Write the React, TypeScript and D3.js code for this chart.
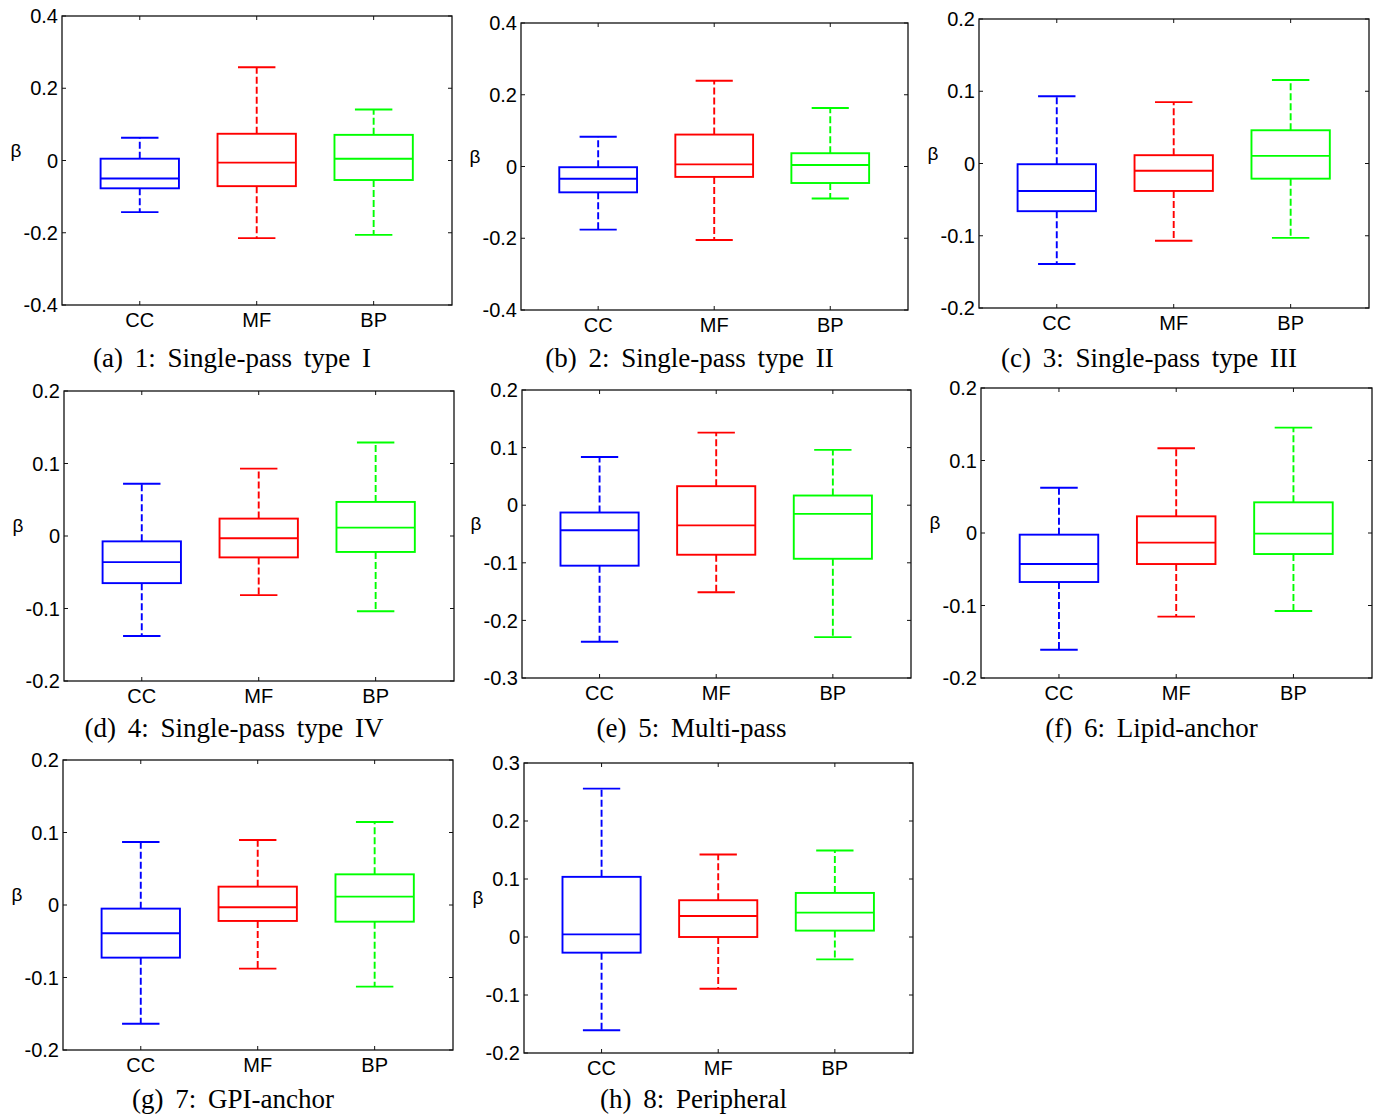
import React from "react";
import * as d3 from "d3";

// Categories
const categories = ["CC", "MF", "BP"];

// Each row: [lower whisker, Q1, median, Q3, upper whisker] for CC, MF, BP
const singlePassI = [
  [-0.143, -0.077, -0.050, 0.005, 0.063],
  [-0.215, -0.071, -0.006, 0.074, 0.258],
  [-0.206, -0.054, 0.005, 0.071, 0.141],
];
const singlePassII = [
  [-0.176, -0.072, -0.034, -0.002, 0.083],
  [-0.205, -0.029, 0.006, 0.089, 0.239],
  [-0.089, -0.046, 0.004, 0.037, 0.163],
];
const singlePassIII = [
  [-0.139, -0.066, -0.038, -0.001, 0.093],
  [-0.107, -0.038, -0.010, 0.0115, 0.085],
  [-0.103, -0.021, 0.0105, 0.046, 0.1155],
];
const singlePassIV = [
  [-0.138, -0.065, -0.036, -0.0074, 0.072],
  [-0.0816, -0.0295, -0.0032, 0.024, 0.093],
  [-0.1037, -0.022, 0.0115, 0.047, 0.129],
];
const multiPass = [
  [-0.237, -0.105, -0.0434, -0.0127, 0.0838],
  [-0.151, -0.086, -0.035, 0.033, 0.126],
  [-0.229, -0.093, -0.015, 0.0168, 0.096],
];
const lipidAnchor = [
  [-0.161, -0.0676, -0.0428, -0.0023, 0.0625],
  [-0.1154, -0.0428, -0.0133, 0.023, 0.1168],
  [-0.1076, -0.029, -0.0009, 0.0423, 0.1453],
];
const gpiAnchor = [
  [-0.1637, -0.0726, -0.039, -0.005, 0.0869],
  [-0.0878, -0.022, -0.0032, 0.0253, 0.0897],
  [-0.1126, -0.023, 0.0115, 0.0423, 0.1145],
];
const peripheral = [
  [-0.1607, -0.027, 0.0046, 0.1037, 0.2558],
  [-0.0893, 0.0, 0.0363, 0.0634, 0.1423],
  [-0.0386, 0.011, 0.042, 0.076, 0.1492],
];

const captions = [
  "(a) 1: Single-pass type I",
  "(b) 2: Single-pass type II",
  "(c) 3: Single-pass type III",
  "(d) 4: Single-pass type IV",
  "(e) 5: Multi-pass",
  "(f) 6: Lipid-anchor",
  "(g) 7: GPI-anchor",
  "(h) 8: Peripheral",
];

const yDomains = [
  [-0.4, 0.4],
  [-0.4, 0.4],
  [-0.2, 0.2],
  [-0.2, 0.2],
  [-0.3, 0.2],
  [-0.2, 0.2],
  [-0.2, 0.2],
  [-0.2, 0.3],
];
const yTickSteps = [0.2, 0.2, 0.1, 0.1, 0.1, 0.1, 0.1, 0.1];

const panelData = [
  singlePassI,
  singlePassII,
  singlePassIII,
  singlePassIV,
  multiPass,
  lipidAnchor,
  gpiAnchor,
  peripheral,
];

// Layout (plot rectangles: left, top, right, bottom) and caption baselines
const layout = [
  { l: 62, t: 16, r: 452, b: 305, cap: 367 },
  { l: 521, t: 23, r: 908, b: 310, cap: 367 },
  { l: 979, t: 19, r: 1369, b: 308, cap: 367 },
  { l: 64, t: 391, r: 454, b: 681, cap: 737 },
  { l: 522, t: 390, r: 911, b: 678, cap: 737 },
  { l: 981, t: 388, r: 1372, b: 678, cap: 737 },
  { l: 63, t: 760, r: 453, b: 1050, cap: 1108 },
  { l: 524, t: 763, r: 913, b: 1053, cap: 1108 },
];

const colors = ["#0000ff", "#ff0000", "#00ff00"];
const sans = "'Liberation Sans', Arial, sans-serif";
const serif = "'Liberation Serif', 'Times New Roman', serif";

const fmt = (v: number) => {
  const r = Math.round(v * 10) / 10;
  if (Math.abs(r) < 1e-9) return "0";
  return r.toFixed(1);
};

function Panel({ idx }: { idx: number }) {
  const L = layout[idx];
  const data = panelData[idx];
  const [y0, y1] = yDomains[idx];
  const x = d3.scaleLinear().domain([0.335, 3.67]).range([L.l, L.r]);
  const y = d3.scaleLinear().domain([y0, y1]).range([L.b, L.t]);
  const step = yTickSteps[idx];
  const n = Math.round((y1 - y0) / step);
  const ticks = d3.range(n + 1).map((i) => y0 + i * step);
  const boxW = 0.67;
  const capW = 0.32;
  const tickLen = 4;
  return (
    <g>
      {/* frame */}
      <rect
        x={L.l}
        y={L.t}
        width={L.r - L.l}
        height={L.b - L.t}
        fill="none"
        stroke="#111"
        strokeWidth={1.3}
      />
      {ticks.map((t, i) => (
        <g key={"yt" + i}>
          <line x1={L.l} x2={L.l + tickLen} y1={y(t)} y2={y(t)} stroke="#111" strokeWidth={1} />
          <line x1={L.r} x2={L.r - tickLen} y1={y(t)} y2={y(t)} stroke="#111" strokeWidth={1} />
          <text
            x={L.l - 4}
            y={y(t)}
            dy="0.36em"
            textAnchor="end"
            fontFamily={sans}
            fontSize={20}
            fill="#000"
          >
            {fmt(t)}
          </text>
        </g>
      ))}
      {categories.map((c, i) => (
        <g key={"xt" + i}>
          <line x1={x(i + 1)} x2={x(i + 1)} y1={L.b} y2={L.b - tickLen} stroke="#111" strokeWidth={1} />
          <line x1={x(i + 1)} x2={x(i + 1)} y1={L.t} y2={L.t + tickLen} stroke="#111" strokeWidth={1} />
          <text
            x={x(i + 1)}
            y={L.b + 22}
            textAnchor="middle"
            fontFamily={sans}
            fontSize={20}
            fill="#000"
          >
            {c}
          </text>
        </g>
      ))}
      <text
        x={L.l - 46}
        y={(L.t + L.b) / 2 - 4}
        textAnchor="middle"
        fontFamily={sans}
        fontSize={19}
        fill="#000"
      >
        β
      </text>
      {data.map((s, i) => {
        const [lo, q1, med, q3, hi] = s;
        const col = colors[i];
        const cx = x(i + 1);
        const bx0 = x(i + 1 - boxW / 2);
        const bx1 = x(i + 1 + boxW / 2);
        const cx0 = x(i + 1 - capW / 2);
        const cx1 = x(i + 1 + capW / 2);
        return (
          <g key={"bx" + i} stroke={col} strokeWidth={1.9} fill="none">
            <line x1={cx} x2={cx} y1={y(q3)} y2={y(hi)} strokeDasharray="7,3" />
            <line x1={cx} x2={cx} y1={y(q1)} y2={y(lo)} strokeDasharray="7,3" />
            <line x1={cx0} x2={cx1} y1={y(hi)} y2={y(hi)} />
            <line x1={cx0} x2={cx1} y1={y(lo)} y2={y(lo)} />
            <rect x={bx0} y={y(q3)} width={bx1 - bx0} height={y(q1) - y(q3)} />
            <line x1={bx0} x2={bx1} y1={y(med)} y2={y(med)} />
          </g>
        );
      })}
      <text
        x={(L.l + L.r) / 2 - 25}
        y={L.cap}
        textAnchor="middle"
        fontFamily={serif}
        fontSize={27}
        fill="#000"
        style={{ wordSpacing: "5px" }}
      >
        {captions[idx]}
      </text>
    </g>
  );
}

export default function App() {
  return (
    <svg
      width={1377}
      height={1119}
      style={{ position: "absolute", left: 0, top: 0, background: "#fff" }}
    >
      <rect x={0} y={0} width={1377} height={1119} fill="#fff" />
      {panelData.map((_, i) => (
        <Panel key={i} idx={i} />
      ))}
    </svg>
  );
}
